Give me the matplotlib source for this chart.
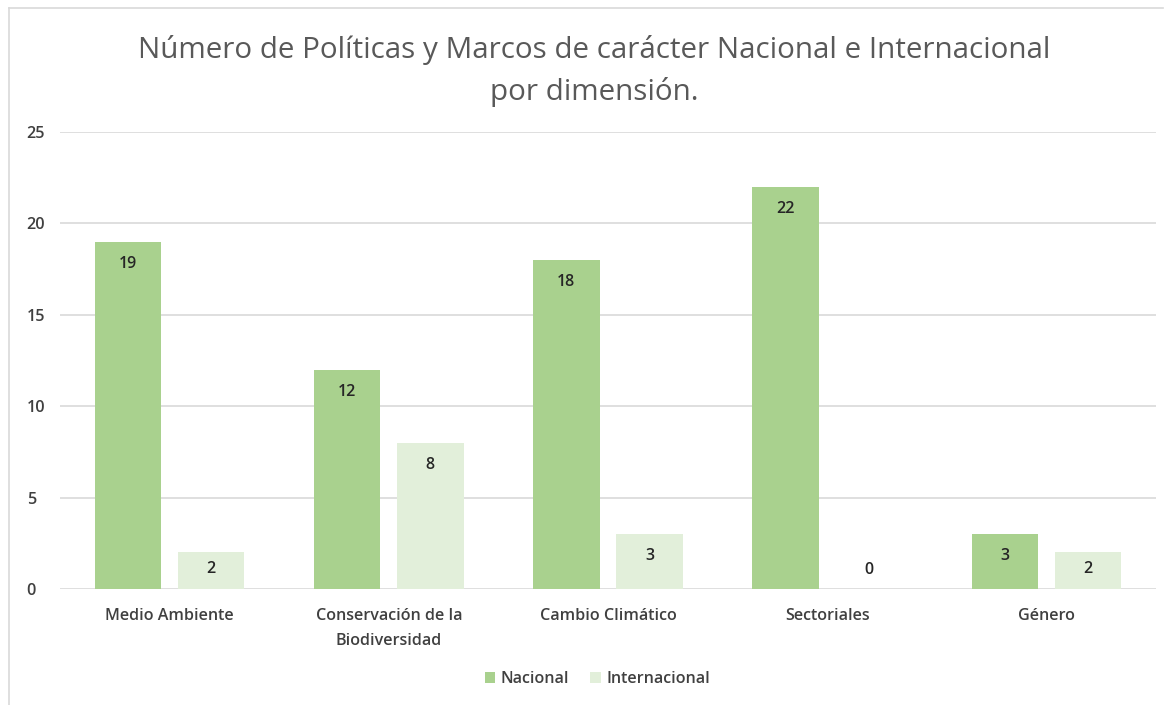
import matplotlib
matplotlib.use("Agg")
import matplotlib.pyplot as plt
import numpy as np

categories = ["Medio Ambiente", "Conservación de la\nBiodiversidad", "Cambio Climático", "Sectoriales", "Género"]
nacional = [19, 12, 18, 22, 3]
internacional = [2, 8, 3, 0, 2]
series_names = ["Nacional", "Internacional"]
yticks = [0, 5, 10, 15, 20, 25]

plt.rcParams['font.family'] = ['Open Sans', 'DejaVu Sans']

fig = plt.figure(figsize=(11.69, 7.05), dpi=100)
ax = fig.add_axes([0.0513, 0.1645, 0.9376, 0.6483])

x = np.arange(len(categories))
w = 0.303
off = 0.19
c_nac = "#a9d18e"
c_int = "#e2efda"
b1 = ax.bar(x - off, nacional, w, color=c_nac, label=series_names[0], zorder=3)
b2 = ax.bar(x + off, internacional, w, color=c_int, label=series_names[1], zorder=3)

for bars, vals in ((b1, nacional), (b2, internacional)):
    for rect, v in zip(bars, vals):
        ypos = max(v - 1.2, v * 0.55) if v > 0 else 1.05
        ax.text(rect.get_x() + rect.get_width() / 2, ypos, str(v),
                ha="center", va="center", fontsize=11.5, fontweight="semibold",
                color="#262626", zorder=4)

ax.set_xlim(-0.5, len(categories) - 0.5)
ax.set_ylim(0, 25)
ax.set_yticks(yticks)
ax.set_xticks(x)
ax.set_xticklabels(categories, fontsize=11.6, color="#404040", fontweight="semibold", linespacing=1.75)
ax.set_yticklabels([str(t) for t in yticks], fontsize=11.6, color="#404040", fontweight="semibold")
ax.tick_params(axis="both", length=0)
ax.tick_params(axis="x", pad=14)
ax.tick_params(axis="y", pad=24)
for lbl in ax.get_yticklabels():
    lbl.set_horizontalalignment("left")
ax.grid(axis="y", color="#d9d9d9", linewidth=1.2, zorder=0)
for s in ax.spines.values():
    s.set_visible(False)

fig.text(0.508, 0.929, "Número de Políticas y Marcos de carácter Nacional e Internacional",
         ha="center", va="center", fontsize=21.3, color="#595959")
fig.text(0.508, 0.870, "por dimensión.", ha="center", va="center", fontsize=21.3, color="#595959")

leg = fig.legend(loc="center", bbox_to_anchor=(0.511, 0.037), ncol=2, frameon=False,
                 fontsize=11.6, handlelength=0.65, handleheight=0.65, columnspacing=1.3,
                 handletextpad=0.35)
for t in leg.get_texts():
    t.set_color("#404040")
    t.set_fontweight("semibold")

# chart border
fig.add_artist(plt.Line2D([0.008, 0.008], [0.0, 0.988], color="#d9d9d9", lw=1.2, transform=fig.transFigure))
fig.add_artist(plt.Line2D([0.008, 0.995], [0.988, 0.988], color="#d9d9d9", lw=1.2, transform=fig.transFigure))

fig.savefig("out.png", dpi=100)
